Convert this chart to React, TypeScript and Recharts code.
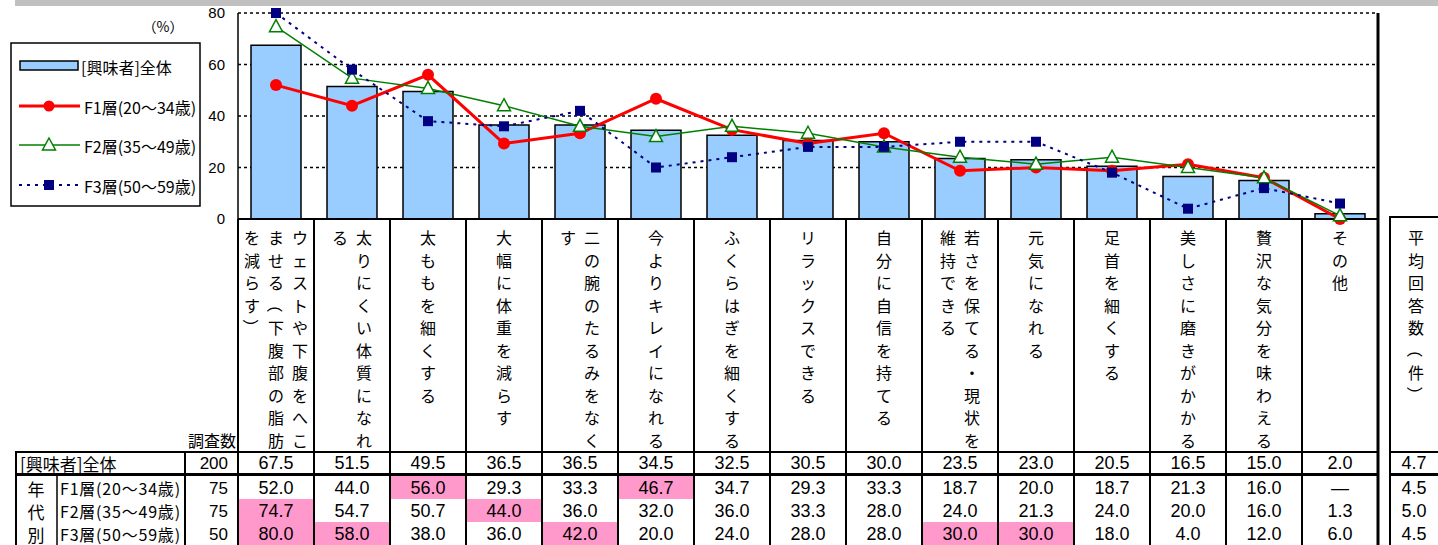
import React from 'react'
import { ComposedChart, Bar, Line, XAxis, YAxis, CartesianGrid } from 'recharts'

const categories = [
  'ウェストや下腹をへこませる（下腹部の脂肪を減らす）',
  '太りにくい体質になれる',
  '太ももを細くする',
  '大幅に体重を減らす',
  '二の腕のたるみをなくす',
  '今よりキレイになれる',
  'ふくらはぎを細くする',
  'リラックスできる',
  '自分に自信を持てる',
  '若さを保てる・現状を維持できる',
  '元気になれる',
  '足首を細くする',
  '美しさに磨きがかかる',
  '贅沢な気分を味わえる',
  'その他',
]
const overall = [67.5, 51.5, 49.5, 36.5, 36.5, 34.5, 32.5, 30.5, 30.0, 23.5, 23.0, 20.5, 16.5, 15.0, 2.0]
const f1 = [52.0, 44.0, 56.0, 29.3, 33.3, 46.7, 34.7, 29.3, 33.3, 18.7, 20.0, 18.7, 21.3, 16.0, 0]
const f2 = [74.7, 54.7, 50.7, 44.0, 36.0, 32.0, 36.0, 33.3, 28.0, 24.0, 21.3, 24.0, 20.0, 16.0, 1.3]
const f3 = [80.0, 58.0, 38.0, 36.0, 42.0, 20.0, 24.0, 28.0, 28.0, 30.0, 30.0, 18.0, 4.0, 12.0, 6.0]
const rowLabels = ['[興味者]全体', 'F1層(20～34歳)', 'F2層(35～49歳)', 'F3層(50～59歳)']
const sampleSizes = [200, 75, 75, 50]
const avgAnswers = [4.7, 4.5, 5.0, 4.5]
const yTicks = [0, 20, 40, 60, 80]

const data = categories.map((name, i) => ({ name, overall: overall[i], f1: f1[i], f2: f2[i], f3: f3[i] }))

const FONT = '"Noto Sans CJK JP", "Noto Sans", sans-serif'
const NUM_FONT = '"Liberation Sans", Arial, sans-serif'
const BAR_FILL = '#99ccff'
const RED = '#ff0000'
const GREEN = '#008000'
const NAVY = '#000080'
const PINK = '#ff99cc'

const W = 1438
const H = 545
const PLOT_T = 13
const PLOT_B = 219
const COL_W = 76
const ROW_TOP = [452, 476, 499, 522]
const ROW_BOT = [473, 499, 522, 545]
const ROW_Y = [463, 488, 511, 534]
const LABEL_Y0 = 237
const CHAR_STEP = 22.5
const LINE_STEP = 24
const NUM_SIZE = 18

function chunks(s: string) {
  const out: string[] = []
  for (let i = 0; i < s.length; i += 10) out.push(s.slice(i, i + 10))
  return out
}

function VerticalText({ cx, text }: { cx: number; text: string }) {
  const cols = chunks(text)
  const n = cols.length
  return (
    <g>
      {cols.map((col, k) =>
        col.split('').map((ch, j) => {
          const x = cx + ((n - 1) / 2 - k) * LINE_STEP
          const y = LABEL_Y0 + j * CHAR_STEP
          const rot = ch === '（' || ch === '）'
          return (
            <text key={`${k}-${j}`} x={x} y={y} textAnchor="middle" dominantBaseline="central"
              fontSize={16} fontFamily={FONT} fill="#000" transform={rot ? `rotate(90 ${x} ${y})` : undefined}>
              {ch}
            </text>
          )
        })
      )}
    </g>
  )
}

function CategoryTick(props: any) {
  const { x, payload } = props
  const i = payload.index
  const left = x - COL_W / 2
  const rows = [overall, f1, f2, f3]
  return (
    <g>
      {rows.map((arr, r) => {
        const v = arr[i]
        const hl = r > 0 && v - overall[i] >= 5
        return hl ? (
          <rect key={`p${r}`} x={left + 1} y={ROW_TOP[r]} width={COL_W - 2} height={ROW_BOT[r] - ROW_TOP[r]} fill={PINK} />
        ) : null
      })}
      <line x1={left} y1={PLOT_B} x2={left} y2={H} stroke="#000" strokeWidth={2} />
      {i === categories.length - 1 && (
        <line x1={left + COL_W} y1={PLOT_T} x2={left + COL_W} y2={H} stroke="#000" strokeWidth={3} />
      )}
      <VerticalText cx={x} text={categories[i]} />
      {rows.map((arr, r) => {
        const v = arr[i]
        const txt = r === 1 && v === 0 ? '—' : v.toFixed(1)
        return (
          <text key={`v${r}`} x={x} y={ROW_Y[r]} textAnchor="middle" dominantBaseline="central"
            fontSize={NUM_SIZE} fontFamily={NUM_FONT} fill="#000">
            {txt}
          </text>
        )
      })}
    </g>
  )
}

const redDot = (p: any) => <circle key={`r${p.index}`} cx={p.cx} cy={p.cy} r={6} fill={RED} />
const triDot = (p: any) => (
  <path key={`t${p.index}`} d={`M${p.cx},${p.cy - 7} L${p.cx + 6.5},${p.cy + 5} L${p.cx - 6.5},${p.cy + 5} Z`}
    fill="#fff" stroke={GREEN} strokeWidth={1.5} />
)
const sqDot = (p: any) => <rect key={`s${p.index}`} x={p.cx - 5} y={p.cy - 5} width={10} height={10} fill={NAVY} />

function Overlay() {
  const legendItems = [
    { y: 66, label: rowLabels[0] },
    { y: 106, label: rowLabels[1] },
    { y: 145, label: rowLabels[2] },
    { y: 185, label: rowLabels[3] },
  ]
  return (
    <svg width={W} height={H} style={{ position: 'absolute', left: 0, top: 0, pointerEvents: 'none' }}>
      <rect x={15} y={0} width={W - 15} height={6} fill="#c0c0c0" />
      <text x={163} y={26} textAnchor="middle" dominantBaseline="central" fontSize={14} fontFamily={FONT}>（%）</text>

      <rect x={11} y={43} width={189} height={163} fill="#fff" stroke="#000" strokeWidth={1.5} />
      <rect x={20} y={61} width={58} height={9} fill={BAR_FILL} stroke="#000" strokeWidth={1.5} />
      <line x1={19} y1={106} x2={80} y2={106} stroke={RED} strokeWidth={3} />
      <circle cx={49} cy={106} r={5.5} fill={RED} />
      <line x1={19} y1={145} x2={80} y2={145} stroke={GREEN} strokeWidth={1.5} />
      <path d="M49,138 L55.5,150 L42.5,150 Z" fill="#fff" stroke={GREEN} strokeWidth={1.5} />
      <line x1={19} y1={185} x2={80} y2={185} stroke={NAVY} strokeWidth={2} strokeDasharray="3 5" />
      <rect x={44} y={180} width={10} height={10} fill={NAVY} />
      {legendItems.map((it, k) => (
        <text key={k} x={k === 0 ? 81 : 84} y={it.y + 1} dominantBaseline="central" fontSize={16} fontFamily={FONT}>
          {it.label}
        </text>
      ))}

      <text x={212} y={440} textAnchor="middle" dominantBaseline="central" fontSize={16} fontFamily={FONT}>調査数</text>
      <line x1={16} y1={452} x2={1379} y2={452} stroke="#000" strokeWidth={2} />
      <line x1={16} y1={474.5} x2={1379} y2={474.5} stroke="#000" strokeWidth={3} />
      <line x1={16} y1={451} x2={16} y2={H} stroke="#000" strokeWidth={2} />
      <line x1={57} y1={476} x2={57} y2={H} stroke="#000" strokeWidth={1.5} />
      <line x1={185} y1={451} x2={185} y2={H} stroke="#000" strokeWidth={2} />
      <text x={20} y={ROW_Y[0]} dominantBaseline="central" fontSize={17} fontFamily={FONT}>{rowLabels[0]}</text>
      {rowLabels.slice(1).map((l, k) => (
        <text key={k} x={60} y={ROW_Y[k + 1]} dominantBaseline="central" fontSize={16} letterSpacing={0.8} fontFamily={FONT}>{l}</text>
      ))}
      {['年', '代', '別'].map((c, k) => (
        <text key={c} x={36} y={ROW_Y[k + 1]} textAnchor="middle" dominantBaseline="central" fontSize={17} fontFamily={FONT}>{c}</text>
      ))}
      {sampleSizes.map((n, k) => (
        <text key={k} x={228} y={ROW_Y[k]} textAnchor="end" dominantBaseline="central" fontSize={17} fontFamily={NUM_FONT}>{n}</text>
      ))}

      <rect x={1390} y={217} width={70} height={H} fill="none" stroke="#000" strokeWidth={2} />
      <line x1={1390} y1={452} x2={W} y2={452} stroke="#000" strokeWidth={2} />
      <line x1={1390} y1={474.5} x2={W} y2={474.5} stroke="#000" strokeWidth={3} />
      <VerticalText cx={1416} text="平均回答数（件）" />
      {avgAnswers.map((v, k) => (
        <text key={k} x={1414} y={ROW_Y[k]} textAnchor="middle" dominantBaseline="central" fontSize={NUM_SIZE} fontFamily={NUM_FONT}>
          {v.toFixed(1)}
        </text>
      ))}
    </svg>
  )
}

export default function App() {
  return (
    <div style={{ position: 'absolute', left: 0, top: 0, width: W, height: H, background: '#fff', fontFamily: FONT }}>
      <ComposedChart width={W} height={H} data={data} margin={{ top: PLOT_T, right: 60, bottom: H - PLOT_B - 30, left: 178 }}>
        <CartesianGrid vertical={false} stroke="#000" strokeDasharray="3 3" strokeWidth={1.5} />
        <XAxis dataKey="name" height={30} interval={0} tickLine={false} axisLine={{ stroke: '#000', strokeWidth: 2 }}
          tick={(p: any) => <CategoryTick key={p.index} {...p} />} />
        <YAxis width={60} domain={[0, 80]} ticks={yTicks} tickLine={false} tickMargin={7}
          axisLine={{ stroke: '#000', strokeWidth: 1.5 }}
          tick={{ fontSize: 15, fill: '#000', fontFamily: NUM_FONT }} />
        <Bar dataKey="overall" fill={BAR_FILL} stroke="#000" strokeWidth={1.5} barSize={50} isAnimationActive={false} />
        <Line type="linear" dataKey="f1" stroke={RED} strokeWidth={3} dot={redDot} activeDot={false} isAnimationActive={false} />
        <Line type="linear" dataKey="f2" stroke={GREEN} strokeWidth={1.5} dot={triDot} activeDot={false} isAnimationActive={false} />
        <Line type="linear" dataKey="f3" stroke={NAVY} strokeWidth={2} strokeDasharray="3 5" dot={sqDot} activeDot={false} isAnimationActive={false} />
      </ComposedChart>
      <Overlay />
    </div>
  )
}
